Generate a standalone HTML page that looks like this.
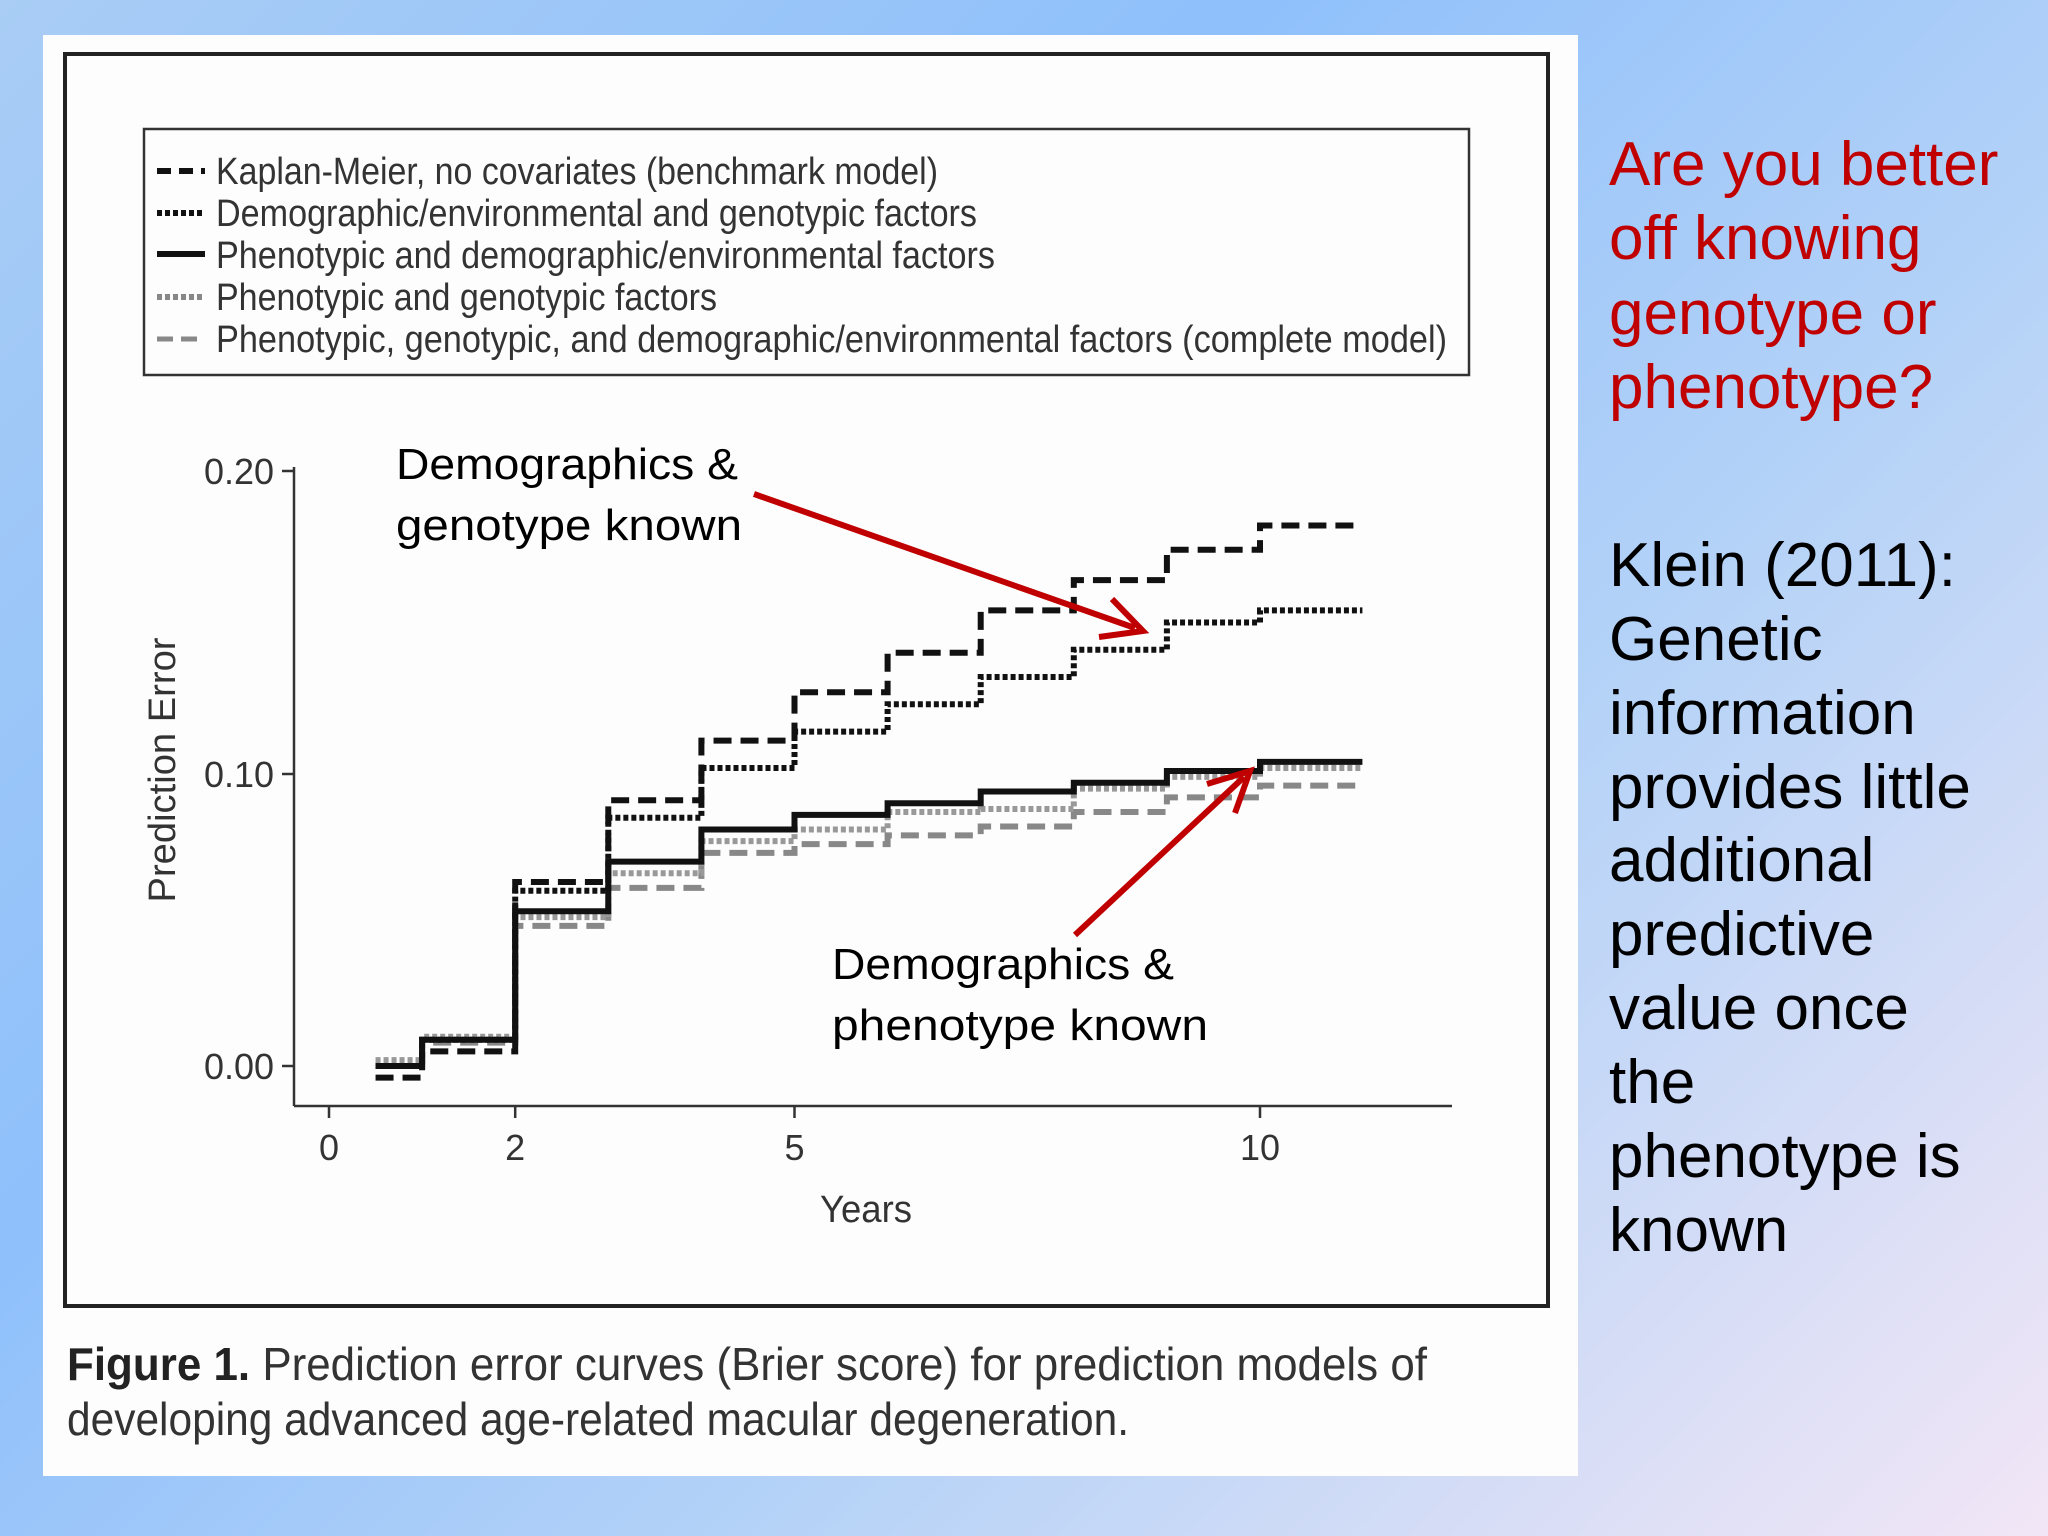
<!DOCTYPE html>
<html><head><meta charset="utf-8"><style>
html,body{margin:0;padding:0;width:2048px;height:1536px;overflow:hidden}
body{background:linear-gradient(135deg,#a9cdf5 0%,#8fc0fb 35%,#b6d3f7 65%,#f2e6f6 100%)}
svg{position:absolute;left:0;top:0}
.cond{font-family:"Liberation Sans",sans-serif;fill:#333}
.ann{font-family:"Liberation Sans",sans-serif;fill:#000;font-size:44px}
.side{font-family:"Liberation Sans",sans-serif;font-size:62px}
</style></head><body>
<svg id="chart" width="2048" height="1536" viewBox="0 0 2048 1536">
<rect x="43" y="35" width="1535" height="1441" fill="#fdfdfe"/>
<rect x="65" y="54" width="1483" height="1252" fill="none" stroke="#222" stroke-width="4"/>
<g>
<rect x="144" y="129" width="1325" height="246" fill="none" stroke="#333" stroke-width="2.5"/>
<line x1="157" y1="171" x2="205" y2="171" stroke="#111" stroke-width="6" stroke-dasharray="14,8"/>
<text class="cond" x="216" y="184" font-size="38" textLength="722" lengthAdjust="spacingAndGlyphs">Kaplan-Meier, no covariates (benchmark model)</text>
<line x1="157" y1="213" x2="205" y2="213" stroke="#111" stroke-width="6" stroke-dasharray="5,3"/>
<text class="cond" x="216" y="226" font-size="38" textLength="761" lengthAdjust="spacingAndGlyphs">Demographic/environmental and genotypic factors</text>
<line x1="157" y1="254" x2="205" y2="254" stroke="#111" stroke-width="6"/>
<text class="cond" x="216" y="268" font-size="38" textLength="779" lengthAdjust="spacingAndGlyphs">Phenotypic and demographic/environmental factors</text>
<line x1="157" y1="297" x2="205" y2="297" stroke="#888" stroke-width="6" stroke-dasharray="5,3"/>
<text class="cond" x="216" y="310" font-size="38" textLength="501" lengthAdjust="spacingAndGlyphs">Phenotypic and genotypic factors</text>
<line x1="157" y1="339" x2="205" y2="339" stroke="#888" stroke-width="5" stroke-dasharray="16,8"/>
<text class="cond" x="216" y="352" font-size="38" textLength="1231" lengthAdjust="spacingAndGlyphs">Phenotypic, genotypic, and demographic/environmental factors (complete model)</text>
</g>
<g id="axes"></g>
<g id="series"></g>
<text class="cond" transform="translate(175,770) rotate(-90)" text-anchor="middle" font-size="38" textLength="265" lengthAdjust="spacingAndGlyphs">Prediction Error</text>
<text class="cond" x="866" y="1222" text-anchor="middle" font-size="38" textLength="92" lengthAdjust="spacingAndGlyphs">Years</text>
<text class="cond" x="67" y="1380" font-size="46" textLength="1360" lengthAdjust="spacingAndGlyphs"><tspan font-weight="bold" fill="#222">Figure 1.</tspan> Prediction error curves (Brier score) for prediction models of</text>
<text class="cond" x="67" y="1435" font-size="46" textLength="1062" lengthAdjust="spacingAndGlyphs">developing advanced age-related macular degeneration.</text>
<g>
<text class="ann" x="396" y="479" textLength="342" lengthAdjust="spacingAndGlyphs">Demographics &amp;</text>
<text class="ann" x="396" y="540" textLength="346" lengthAdjust="spacingAndGlyphs">genotype known</text>
<line x1="754" y1="494" x2="1135" y2="628" stroke="#c00000" stroke-width="6"/>
<polyline points="1112,599 1143,631 1099,637" fill="none" stroke="#c00000" stroke-width="6" stroke-linejoin="miter"/>
</g>
<g>
<text class="ann" x="832" y="979" textLength="342" lengthAdjust="spacingAndGlyphs">Demographics &amp;</text>
<text class="ann" x="832" y="1040" textLength="376" lengthAdjust="spacingAndGlyphs">phenotype known</text>
<line x1="1075" y1="935" x2="1244" y2="777" stroke="#c00000" stroke-width="6"/>
<polyline points="1207,784 1250,771 1235,813" fill="none" stroke="#c00000" stroke-width="6"/>
</g>
<g class="side" fill="#c00000">
<text x="1609" y="185">Are you better</text>
<text x="1609" y="259">off knowing</text>
<text x="1609" y="334">genotype or</text>
<text x="1609" y="408">phenotype?</text>
</g>
<g class="side" fill="#000">
<text x="1609" y="586">Klein (2011):</text>
<text x="1609" y="660">Genetic</text>
<text x="1609" y="734">information</text>
<text x="1609" y="808">provides little</text>
<text x="1609" y="881">additional</text>
<text x="1609" y="955">predictive</text>
<text x="1609" y="1029">value once</text>
<text x="1609" y="1103">the</text>
<text x="1609" y="1177">phenotype is</text>
<text x="1609" y="1251">known</text>
</g>
</svg>
<script>
const stepTimes = [0.5,1,2,3,4,5,6,7,8,9,10];
const endTime = 11.1;
const kmValues = [-0.004,0.005,0.063,0.091,0.111,0.127,0.140,0.154,0.164,0.174,0.182];
const demoGenoValues = [0.0,0.009,0.060,0.085,0.102,0.114,0.123,0.132,0.141,0.150,0.154];
const phenoDemoValues = [0.0,0.009,0.053,0.070,0.081,0.086,0.090,0.094,0.097,0.101,0.104];
const phenoGenoValues = [0.002,0.010,0.051,0.066,0.077,0.081,0.087,0.088,0.095,0.099,0.102];
const completeValues = [0.0,0.008,0.048,0.061,0.073,0.076,0.079,0.082,0.087,0.092,0.096];
const yTicks = [0, 0.10, 0.20];
const yTickLabels = ["0.00","0.10","0.20"];
const xTicks = [0,2,5,10];
const xTickLabels = ["0","2","5","10"];

const NS = "http://www.w3.org/2000/svg";
const xS = t => 329 + 93.1 * t;
const yS = v => v <= 0.1 ? 1066 - v * 2920 : 774 - (v - 0.1) * 3030;
function mk(tag, attrs, parent){const e=document.createElementNS(NS,tag);for(const k in attrs)e.setAttribute(k,attrs[k]);parent.appendChild(e);return e;}
const axes = document.getElementById('axes');
let a = mk('line',{x1:294,y1:yS(0.2)-4,x2:294,y2:1106,stroke:'#333','stroke-width':2.5},axes);


a = mk('line',{x1:294,y1:1106,x2:1452,y2:1106,stroke:'#333','stroke-width':2.5},axes);


yTicks.forEach((v,i)=>{
  const t = mk('line',{x1:282,y1:yS(v),x2:294,y2:yS(v),stroke:'#333','stroke-width':2.5},axes);
  
  
  const l = mk('text',{x:274,y:yS(v)+13,'text-anchor':'end','font-size':36,class:'cond',textLength:70,lengthAdjust:'spacingAndGlyphs'},axes);
  l.textContent = yTickLabels[i];
  
  
});
xTicks.forEach((v,i)=>{
  const t = mk('line',{x1:xS(v),y1:1106,x2:xS(v),y2:1118,stroke:'#333','stroke-width':2.5},axes);
  
  
  const l = mk('text',{x:xS(v),y:1160,'text-anchor':'middle','font-size':36,class:'cond'},axes);
  l.textContent = xTickLabels[i];
  
  
});
const seriesG = document.getElementById('series');
function stepPath(vals){
  let d = 'M'+xS(stepTimes[0])+','+yS(vals[0]);
  for(let i=1;i<stepTimes.length;i++){d+=' H'+xS(stepTimes[i])+' V'+yS(vals[i]);}
  d+=' H'+xS(endTime);
  return d;
}
function draw(vals,color,dash,w,name){
  const p = mk('path',{d:stepPath(vals),fill:'none',stroke:color,'stroke-width':w},seriesG);
  if(dash) p.setAttribute('stroke-dasharray',dash);
  
  
}
draw(completeValues,'#888','18,9',6,'series-complete-model');
draw(phenoGenoValues,'#999','5,3',6,'series-phenotypic-genotypic');
draw(phenoDemoValues,'#111',null,6,'series-phenotypic-demographic');
draw(demoGenoValues,'#111','5,3',6,'series-demographic-genotypic');
draw(kmValues,'#111','18,9',6,'series-kaplan-meier');
</script>
</body></html>
